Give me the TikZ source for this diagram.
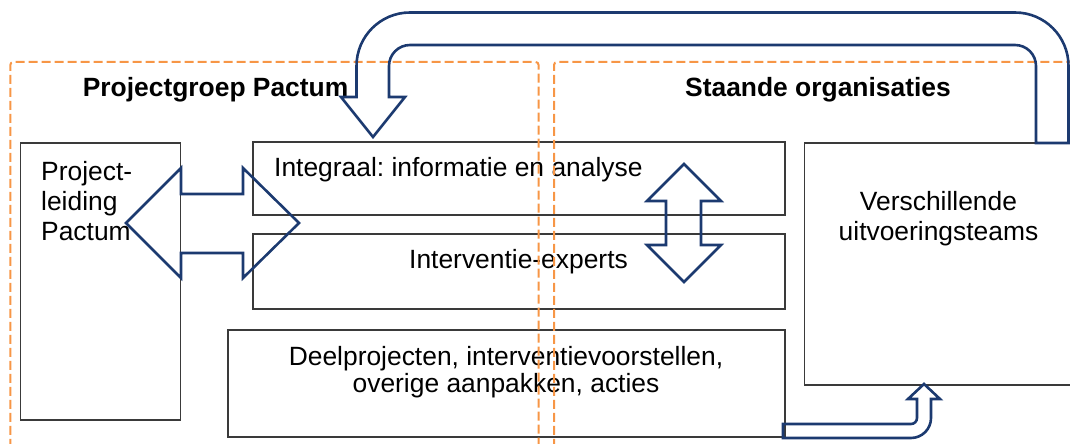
\documentclass[tikz,border=0pt]{standalone}
\usepackage{fontspec}
\setmainfont{Liberation Sans}
\usepackage{xcolor}
\usepackage{tikz}
\definecolor{pactnavy}{HTML}{1C3A70}
\definecolor{pactorange}{HTML}{F79646}
\definecolor{boxgray}{HTML}{3A3A3A}
\frenchspacing

\begin{document}
\begin{tikzpicture}[
    x=1pt, y=1pt,
    every node/.style={font=\fontsize{26.4}{30.4}\selectfont, inner sep=0pt},
    teambox/.style={draw=boxgray, line width=1.3pt},
    groupframe/.style={draw=pactorange, line width=2pt,
      dash pattern=on 9pt off 4pt, rounded corners=3pt},
    blockarrow/.style={draw=pactnavy, line width=2.6pt, line join=miter}
  ]
  \useasboundingbox (0,0) rectangle (1070,444);
  \clip (0,0) rectangle (1070,444);

  % boxes
  \node[teambox, minimum width=160pt, minimum height=277pt] (leiding) at (100.8,162.5) {};
  \node[teambox, minimum width=532pt, minimum height=73pt] (integraal) at (519,265.5) {};
  \node[teambox, minimum width=532pt, minimum height=75pt] (experts) at (519,172.5) {};
  \node[teambox, minimum width=557pt, minimum height=107pt] (deel) at (506.5,60.5) {};
  \node[teambox, minimum width=290pt, minimum height=242pt] (teams) at (949.5,180) {};

  % texts
  \node[anchor=base west] (pactumtitle) at (82.6,347.3) {\bfseries Projectgroep Pactum};
  \node[anchor=base west] (staandetitle) at (685,347.3) {\bfseries Staande organisaties};
  \node[anchor=base west, align=left] (leidingtext) at (41,203) {Project-\\leiding\\Pactum};
  \node[anchor=base west] (integraaltext) at (274,267) {Integraal: informatie en analyse};
  \node[anchor=base] (expertstext) at (518.5,175) {Interventie-experts};
  \node[anchor=base, align=center, font=\fontsize{26.4}{27.5}\selectfont] (deeltext) at (506,51)
    {Deelprojecten, interventievoorstellen,\\overige aanpakken, acties};
  \node[anchor=base, align=center] (teamstext) at (938.5,203.3) {Verschillende\\uitvoeringsteams};

  % dashed groups
  \draw[groupframe] (10.3,-20) rectangle (538.6,382);
  \draw[groupframe] (554,-20) rectangle (1090,382);

  % feedback from the teams back to the integral analysis
  \draw[blockarrow] (1068.5,301) -- (1068.5,378)
    arc[start angle=0, end angle=90, radius=53.5pt] -- (410,431.5)
    arc[start angle=90, end angle=180, radius=53.5pt] -- (356.5,347)
    -- (341,347) -- (373,307) -- (405,347) -- (389,347) -- (389,378)
    arc[start angle=180, end angle=90, radius=21pt] -- (1015,399)
    arc[start angle=90, end angle=0, radius=21pt] -- (1036,301) -- cycle;

  % leiding <-> integraal/experts
  \draw[blockarrow] (126,221) -- (181,276) -- (181,250) -- (243,250) -- (243,276)
    -- (299,221) -- (243,166) -- (243,191) -- (181,191) -- (181,166) -- cycle;

  % integraal <-> experts
  \draw[blockarrow] (684,280) -- (721,243) -- (701,243) -- (701,199) -- (721,199)
    -- (684,162) -- (647,199) -- (666,199) -- (666,243) -- (647,243) -- cycle;

  % deelprojecten -> teams
  \draw[blockarrow] (783,6) -- (911,6)
    arc[start angle=-90, end angle=0, radius=20pt] -- (931,45) -- (940,45)
    -- (924,60) -- (908,45) -- (917,45) -- (917,26)
    arc[start angle=0, end angle=-90, radius=6pt] -- (783,20) -- cycle;
\end{tikzpicture}
\end{document}
